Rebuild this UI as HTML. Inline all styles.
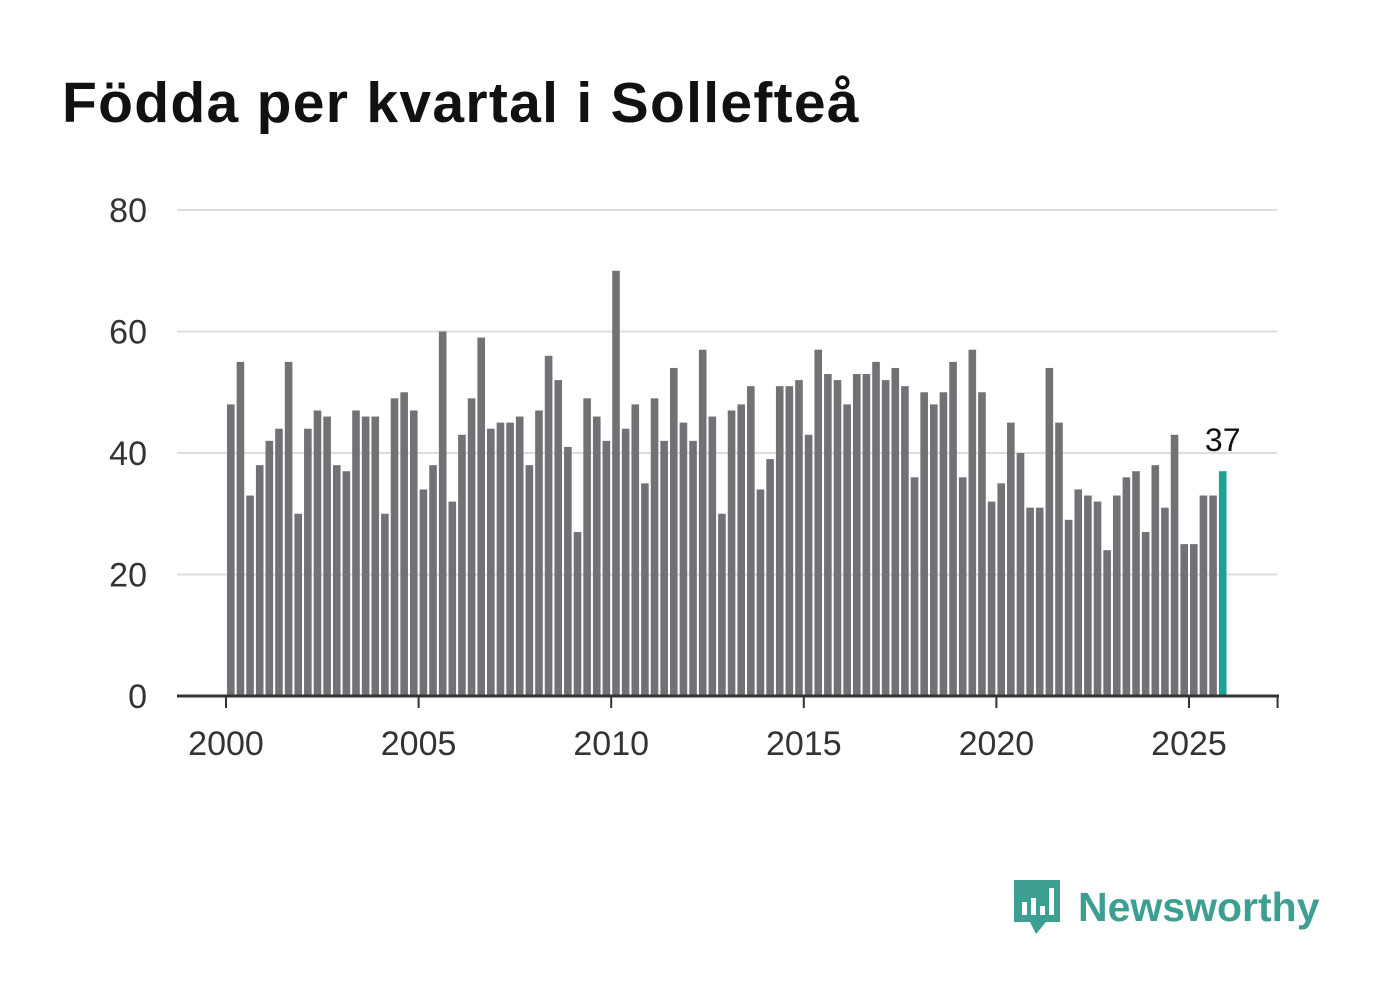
<!DOCTYPE html>
<html><head><meta charset="utf-8"><style>
body{margin:0;width:1382px;height:999px;background:#fff;overflow:hidden;font-family:"Liberation Sans","DejaVu Sans",sans-serif}
h1{position:absolute;left:62px;top:70px;margin:0;font-size:57px;font-weight:bold;color:#111;letter-spacing:1.3px}
</style></head><body>
<h1>Födda per kvartal i Sollefteå</h1>
<svg id="c" width="1382" height="999" style="position:absolute;left:0;top:0"></svg>
<div style="position:absolute;left:1012px;top:878px;display:flex;align-items:center">
<svg width="50" height="58" viewBox="0 0 50 58"><path d="M2 2h46v42H34l-10 12-6-12H2z" fill="#3d9e92"/><rect x="10" y="24" width="5" height="13" fill="#fff"/><rect x="19" y="20" width="5" height="17" fill="#fff"/><rect x="28" y="28" width="5" height="9" fill="#fff"/><rect x="37" y="10" width="5" height="27" fill="#fff"/></svg>
<span style="font-size:41px;font-weight:bold;color:#3d9e92;margin-left:16px">Newsworthy</span></div>
<script>
const years=[2000,2005,2010,2015,2020,2025];
const yTicks=[0,20,40,60,80];
const values=[48,55,33,38, 42,44,55,30, 44,47,46,38, 37,47,46,46, 30,49,50,47, 34,38,60,32, 43,49,59,44, 45,45,46,38, 47,56,52,41, 27,49,46,42, 70,44,48,35, 49,42,54,45, 42,57,46,30, 47,48,51,34, 39,51,51,52, 43,57,53,52, 48,53,53,55, 52,54,51,36, 50,48,50,55, 36,57,50,32, 35,45,40,31, 31,54,45,29, 34,33,32,24, 33,36,37,27, 38,31,43,25, 25,33,33,37];
const startYear=2000;
const svg=document.getElementById('c');const NS='http://www.w3.org/2000/svg';
const x=t=>226+(t-2000)*38.52;const y=v=>696-v*6.075;
function el(n,a){const e=document.createElementNS(NS,n);for(const k in a)e.setAttribute(k,a[k]);svg.appendChild(e);return e;}
yTicks.forEach(v=>{if(v>0){const l=el('line',{x1:177,x2:1277,y1:y(v),y2:y(v),stroke:'#ddd','stroke-width':2});

}
const t=el('text',{x:147,y:y(v)+12,'text-anchor':'end','font-size':34,fill:'#333'});t.textContent=v;

});
values.forEach((v,i)=>{const c=startYear+(i+0.5)/4;const last=i===values.length-1;
const r=el('rect',{x:x(c)-3.8,y:y(v),width:7.6,height:y(0)-y(v),fill:last?'#1aa396':'#727176'});


if(last){const t=el('text',{x:x(c),y:y(v)-20,'text-anchor':'middle','font-size':32,fill:'#111'});t.textContent=v;

}});
const ax=el('line',{x1:177,x2:1279,y1:696,y2:696,stroke:'#333','stroke-width':3});


years.concat([2027.3]).forEach(yr=>{el('line',{x1:x(yr),x2:x(yr),y1:696,y2:708,stroke:'#333','stroke-width':2});});
years.forEach(yr=>{const t=el('text',{x:x(yr),y:755,'text-anchor':'middle','font-size':34,fill:'#333'});t.textContent=yr;

});
</script>
</body></html>
